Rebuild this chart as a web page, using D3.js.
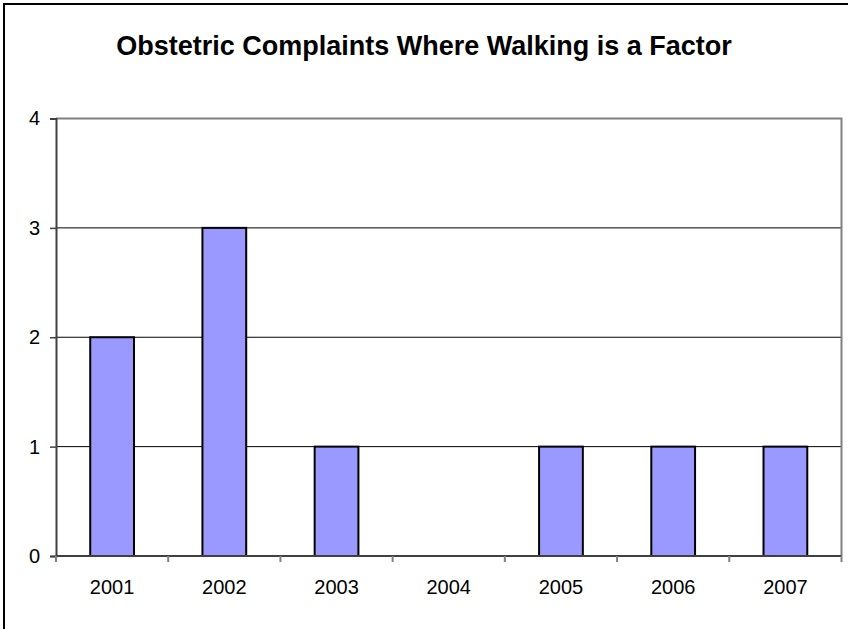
<!DOCTYPE html>
<html>
<head>
<meta charset="utf-8">
<script src="https://cdn.jsdelivr.net/npm/d3@7"></script>
<style>
  html, body { margin: 0; padding: 0; background: #fff; }
  svg { display: block; }
  text { font-family: "Liberation Sans", Arial, sans-serif; fill: #000; }
</style>
</head>
<body>
<svg id="chart" width="848" height="629"></svg>
<script>
// Yearly counts of obstetric complaints where walking is a factor
const years = ["2001", "2002", "2003", "2004", "2005", "2006", "2007"];
const complaints = [2, 3, 1, 0, 1, 1, 1];
const yTicks = [0, 1, 2, 3, 4];
const chartTitle = "Obstetric Complaints Where Walking is a Factor";

const svg = d3.select("#chart");
const plot = { left: 56, right: 841.5, top: 118.5, bottom: 556 };

// outer chart frame (extends past the right and bottom edges)
svg.append("rect")
  .attr("x", 4).attr("y", 4)
  .attr("width", 1000).attr("height", 1000)
  .attr("fill", "#fff").attr("stroke", "#000").attr("stroke-width", 2);

svg.append("text")
  .attr("x", 424).attr("y", 55)
  .attr("text-anchor", "middle")
  .attr("font-size", 27).attr("font-weight", "bold")
  .text(chartTitle);

const x = d3.scaleBand().domain(years).range([plot.left, plot.right]).padding(0);
const y = d3.scaleLinear().domain([0, 4]).range([plot.bottom, plot.top]);

// horizontal gridlines
svg.append("g")
  .selectAll("line")
  .data(yTicks.filter(t => t > 0 && t < 4))
  .join("line")
  .attr("x1", plot.left).attr("x2", plot.right)
  .attr("y1", d => y(d)).attr("y2", d => y(d))
  .attr("stroke", "#000").attr("stroke-width", 1);

// plot area border (top and right)
svg.append("path")
  .attr("d", `M${plot.left},${y(4)}H${plot.right}V${plot.bottom}`)
  .attr("fill", "none").attr("stroke", "#808080").attr("stroke-width", 2);

// bars
const barW = x.bandwidth() * 0.39;
svg.append("g")
  .selectAll("rect")
  .data(years.map((yr, i) => ({ yr, v: complaints[i] })).filter(d => d.v > 0))
  .join("rect")
  .attr("x", d => x(d.yr) + (x.bandwidth() - barW) / 2)
  .attr("y", d => y(d.v))
  .attr("width", barW)
  .attr("height", d => y(0) - y(d.v))
  .attr("fill", "#9999FF")
  .attr("stroke", "#000").attr("stroke-width", 2);

// y axis
const yAxis = svg.append("g")
  .attr("transform", `translate(${plot.left},0)`)
  .call(d3.axisLeft(y).tickValues(yTicks).tickFormat(d3.format("d")).tickSize(6).tickPadding(10));
yAxis.select(".domain").attr("stroke", "#404040").attr("stroke-width", 2);
yAxis.selectAll(".tick line").attr("stroke", "#404040").attr("stroke-width", 1.5);
yAxis.selectAll(".tick text").attr("font-size", 20).attr("font-family", "Liberation Sans, Arial, sans-serif").attr("fill", "#000");

// x axis with ticks at category boundaries
const xAxis = svg.append("g")
  .attr("transform", `translate(0,${plot.bottom})`);
xAxis.append("line")
  .attr("x1", plot.left).attr("x2", plot.right)
  .attr("stroke", "#404040").attr("stroke-width", 2);
const bounds = years.map(d => x(d)).concat([x(years[years.length - 1]) + x.bandwidth()]);
xAxis.selectAll("line.tk")
  .data(bounds)
  .join("line")
  .attr("class", "tk")
  .attr("x1", d => d).attr("x2", d => d)
  .attr("y1", 0).attr("y2", 6)
  .attr("stroke", "#808080").attr("stroke-width", 2);
xAxis.selectAll("text")
  .data(years)
  .join("text")
  .attr("x", d => x(d) + x.bandwidth() / 2)
  .attr("y", 38)
  .attr("text-anchor", "middle")
  .attr("font-size", 20)
  .text(d => d);
</script>
</body>
</html>
